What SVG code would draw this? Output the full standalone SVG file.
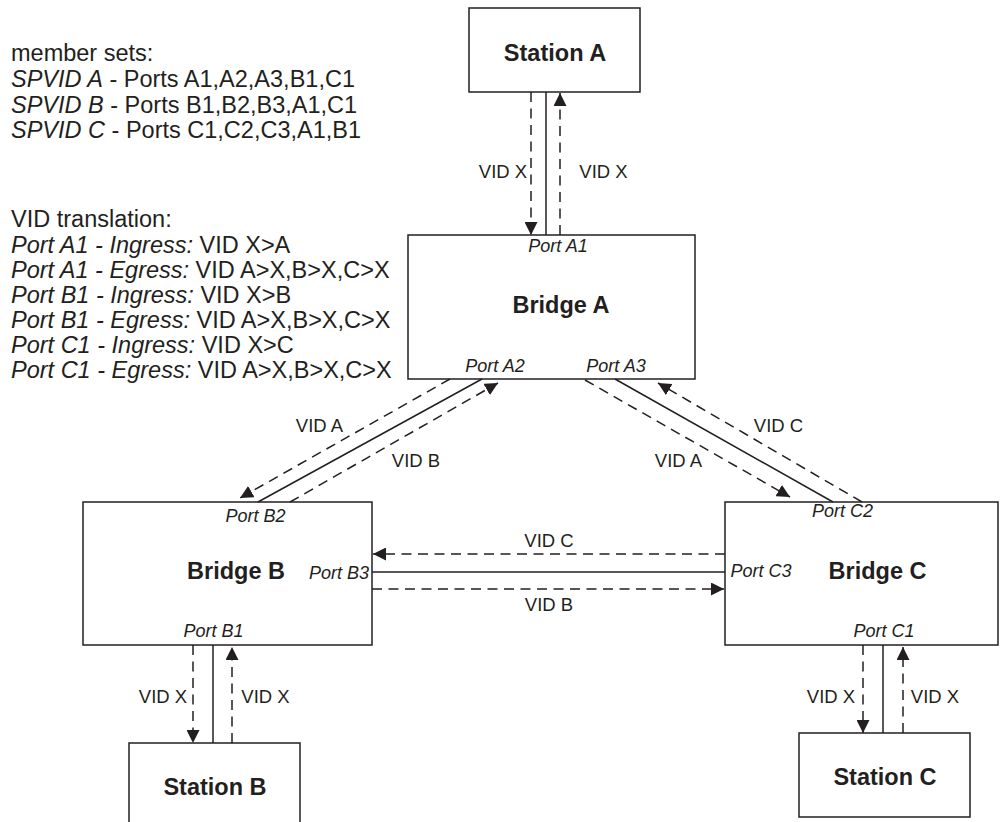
<svg xmlns="http://www.w3.org/2000/svg" width="1000" height="822" viewBox="0 0 1000 822">
<style>
.box{fill:#fff;stroke:#231f20;stroke-width:1.5}
.ln{fill:none;stroke:#231f20;stroke-width:1.5}
.ds{fill:none;stroke:#231f20;stroke-width:1.5;stroke-dasharray:10 6.5;marker-end:url(#ah)}
.note{font-family:"Liberation Sans",Arial,sans-serif;font-size:23.5px;fill:#231f20}
.it{font-style:italic}
.nm{font-family:"Liberation Sans",Arial,sans-serif;font-size:23.5px;font-weight:bold;fill:#231f20;text-anchor:middle}
.pt{font-family:"Liberation Sans",Arial,sans-serif;font-size:18px;font-style:italic;fill:#231f20;text-anchor:middle}
.lb{font-family:"Liberation Sans",Arial,sans-serif;font-size:18.5px;fill:#231f20;text-anchor:middle}
</style>
<defs>
<marker id="ah" markerUnits="userSpaceOnUse" markerWidth="13" markerHeight="13" refX="13" refY="6.5" orient="auto">
<path d="M0,0 L13,6.5 L0,13 z" fill="#231f20"/>
</marker>
</defs>
<rect width="1000" height="822" fill="#fff"/>
<g id="notes">
<text class="note" x="11" y="61">member sets:</text>
<text class="note" x="11" y="87"><tspan class="it">SPVID A</tspan> - Ports A1,A2,A3,B1,C1</text>
<text class="note" x="11" y="113"><tspan class="it">SPVID B</tspan> - Ports B1,B2,B3,A1,C1</text>
<text class="note" x="11" y="138"><tspan class="it">SPVID C</tspan> - Ports C1,C2,C3,A1,B1</text>
<text class="note" x="11" y="227">VID translation:</text>
<text class="note" x="11" y="253"><tspan class="it">Port A1 - Ingress:</tspan> VID X&gt;A</text>
<text class="note" x="11" y="278"><tspan class="it">Port A1 - Egress:</tspan> VID A&gt;X,B&gt;X,C&gt;X</text>
<text class="note" x="11" y="303"><tspan class="it">Port B1 - Ingress:</tspan> VID X&gt;B</text>
<text class="note" x="11" y="328"><tspan class="it">Port B1 - Egress:</tspan> VID A&gt;X,B&gt;X,C&gt;X</text>
<text class="note" x="11" y="353"><tspan class="it">Port C1 - Ingress:</tspan> VID X&gt;C</text>
<text class="note" x="11" y="378"><tspan class="it">Port C1 - Egress:</tspan> VID A&gt;X,B&gt;X,C&gt;X</text>
</g>
<g id="station-a">
<rect class="box" x="469" y="8" width="171" height="84"/>
<text class="nm" x="555" y="61">Station A</text>
</g>
<g id="bridge-a">
<rect class="box" x="408" y="235" width="287" height="144"/>
<text class="nm" x="561" y="313">Bridge A</text>
<text class="pt" x="558" y="252">Port A1</text>
<text class="pt" x="495" y="372">Port A2</text>
<text class="pt" x="616" y="372">Port A3</text>
</g>
<g id="bridge-b">
<rect class="box" x="83" y="502" width="289" height="143"/>
<text class="nm" x="236" y="579">Bridge B</text>
<text class="pt" x="255.5" y="522">Port B2</text>
<text class="pt" x="339" y="579">Port B3</text>
<text class="pt" x="213.5" y="637">Port B1</text>
</g>
<g id="bridge-c">
<rect class="box" x="725" y="502" width="273" height="143"/>
<text class="nm" x="877.5" y="579">Bridge C</text>
<text class="pt" x="842.5" y="517">Port C2</text>
<text class="pt" x="761" y="577">Port C3</text>
<text class="pt" x="884" y="637">Port C1</text>
</g>
<g id="station-b">
<rect class="box" x="129" y="743" width="171" height="100"/>
<text class="nm" x="215" y="795">Station B</text>
</g>
<g id="station-c">
<rect class="box" x="799" y="733" width="171" height="84"/>
<text class="nm" x="885" y="785">Station C</text>
</g>
<g id="connectors">
<path class="ln" d="M546,92 V235"/>
<path class="ds" d="M531,92 V235"/>
<path class="ds" d="M560,235 V93"/>
<path class="ln" d="M482,379 L258,502"/>
<path class="ds" d="M450,379 L240,498"/>
<path class="ds" d="M290,502 L498,383"/>
<path class="ln" d="M615,379 L833,502"/>
<path class="ds" d="M585,380 L790,497"/>
<path class="ds" d="M862,502 L658,383"/>
<path class="ln" d="M372,572 H725"/>
<path class="ds" d="M725,554 H373"/>
<path class="ds" d="M372,589 H724"/>
<path class="ln" d="M213,645 V743"/>
<path class="ds" d="M193,645 V743"/>
<path class="ds" d="M232,743 V647"/>
<path class="ln" d="M883,645 V733"/>
<path class="ds" d="M863,645 V733"/>
<path class="ds" d="M903,733 V647"/>
</g>
<g id="labels">
<text class="lb" x="503" y="178">VID X</text>
<text class="lb" x="603.5" y="178">VID X</text>
<text class="lb" x="319.5" y="432">VID A</text>
<text class="lb" x="416" y="467">VID B</text>
<text class="lb" x="778.5" y="432">VID C</text>
<text class="lb" x="678.5" y="467">VID A</text>
<text class="lb" x="549" y="547">VID C</text>
<text class="lb" x="549" y="611">VID B</text>
<text class="lb" x="163" y="703">VID X</text>
<text class="lb" x="265.5" y="703">VID X</text>
<text class="lb" x="831" y="703">VID X</text>
<text class="lb" x="935" y="703">VID X</text>
</g>
</svg>
